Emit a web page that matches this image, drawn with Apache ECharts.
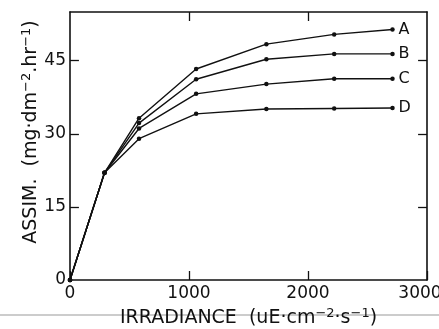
<!DOCTYPE html>
<html><head><meta charset="utf-8">
<script src="https://cdn.jsdelivr.net/npm/echarts@6/dist/echarts.min.js"></script>
<style>html,body{margin:0;padding:0;background:#fff}#c{width:439px;height:329px}</style>
</head><body><div id="c"></div>
<script>
const irradiance = [0, 290, 580, 1060, 1650, 2220, 2710];
const seriesA = [0, 22, 33.2, 43.3, 48.4, 50.4, 51.4];
const seriesB = [0, 22, 32.2, 41.2, 45.3, 46.4, 46.4];
const seriesC = [0, 22, 31.1, 38.2, 40.2, 41.3, 41.3];
const seriesD = [0, 22, 29.0, 34.1, 35.1, 35.2, 35.3];
const seriesNames = ['A', 'B', 'C', 'D'];
const xTicks = [0, 1000, 2000, 3000];
const yTicks = [0, 15, 30, 45];

const FONT = 'DejaVu Sans';
const X_MAX = 3000, Y_MAX = 55;
const all = [seriesA, seriesB, seriesC, seriesD];
const chart = echarts.init(document.getElementById('c'));
const tickIn = {show: true, inside: true, length: 9, lineStyle: {color: '#111', width: 1.3}};
const lineStyle = {color: '#111', width: 1.6};
const axisLineCfg = {show: true, onZero: false, lineStyle: lineStyle};

// inward ticks for the left, right and top frame sides, placed at the tick values
const tickLenX = 75, tickLenY = 1.85;
const innerY = yTicks.filter(v => v > 0 && v < Y_MAX);
const innerX = xTicks.filter(v => v > 0 && v < X_MAX);
const frameTicks = [
  ...innerY.map(v => [{coord: [0, v]}, {coord: [tickLenX, v]}]),
  ...innerY.map(v => [{coord: [X_MAX - tickLenX, v]}, {coord: [X_MAX, v]}]),
  ...innerX.map(v => [{coord: [v, Y_MAX]}, {coord: [v, Y_MAX - tickLenY]}])
];

chart.setOption({
  animation: false,
  grid: {left: 70, right: 12, top: 12, bottom: 49, containLabel: false, outerBoundsMode: 'none'},
  xAxis: [{
    type: 'value', min: 0, max: X_MAX, interval: 1000, position: 'bottom',
    axisLine: axisLineCfg, axisTick: tickIn, splitLine: {show: false},
    axisLabel: {color: '#111', fontFamily: FONT, fontSize: 17, margin: 5,
      formatter: v => v === 3000 ? '{r|3000}' : (xTicks.includes(v) ? String(v) : ''),
      rich: {r: {fontFamily: FONT, fontSize: 17, color: '#111', padding: [0, 14, 0, 0]}}},
    name: '{t|IRRADIANCE  (uE·cm}{s|−2}{t|·s}{s|−1}{t|)}', nameLocation: 'middle', nameGap: 24,
    nameTextStyle: {rich: {
      t: {fontFamily: FONT, fontSize: 19, color: '#111'},
      s: {fontFamily: FONT, fontSize: 13, color: '#111', padding: [0, 0, 9, 0]}
    }}
  }, {
    type: 'value', min: 0, max: X_MAX, interval: 1000, position: 'top',
    axisLine: axisLineCfg, axisTick: {show: false}, axisLabel: {show: false}, splitLine: {show: false}
  }],
  yAxis: [{
    type: 'value', min: 0, max: Y_MAX, interval: 15, position: 'left',
    axisLine: axisLineCfg, axisTick: {show: false}, splitLine: {show: false},
    axisLabel: {color: '#111', fontFamily: FONT, fontSize: 17, margin: 4,
      formatter: v => yTicks.includes(v) ? String(v) : ''},
    name: '{t|ASSIM.  (mg·dm}{s|−2}{t|.hr}{s|−1}{t|)}', nameLocation: 'middle', nameGap: 28, nameRotate: 90,
    nameMoveOverlap: false,
    nameTextStyle: {padding: [0, 0, 0, 28], rich: {
      t: {fontFamily: FONT, fontSize: 19, color: '#111'},
      s: {fontFamily: FONT, fontSize: 13, color: '#111', padding: [0, 0, 9, 0]}
    }}
  }, {
    type: 'value', min: 0, max: Y_MAX, interval: 15, position: 'right',
    axisLine: axisLineCfg, axisTick: {show: false}, axisLabel: {show: false}, splitLine: {show: false}
  }],
  graphic: [{type: 'line', shape: {x1: 0, y1: 315, x2: 439, y2: 315}, style: {stroke: '#999', lineWidth: 1.2}, z: -1}],
  series: all.map((vals, i) => {
    const s = {
      type: 'line', name: seriesNames[i],
      data: irradiance.map((x, j) => [x, vals[j]]),
      symbol: 'circle', symbolSize: 4.5, showSymbol: true,
      itemStyle: {color: '#111'},
      lineStyle: {color: '#111', width: 1.4},
      endLabel: {show: true, formatter: seriesNames[i], fontFamily: FONT, fontSize: 16, color: '#111', distance: 6}
    };
    if (i === 0) {
      s.markLine = {
        silent: true, animation: false, symbol: ['none', 'none'],
        label: {show: false},
        lineStyle: {color: '#111', width: 1.3, type: 'solid'},
        emphasis: {disabled: true},
        data: frameTicks
      };
    }
    return s;
  })
});
</script></body></html>
